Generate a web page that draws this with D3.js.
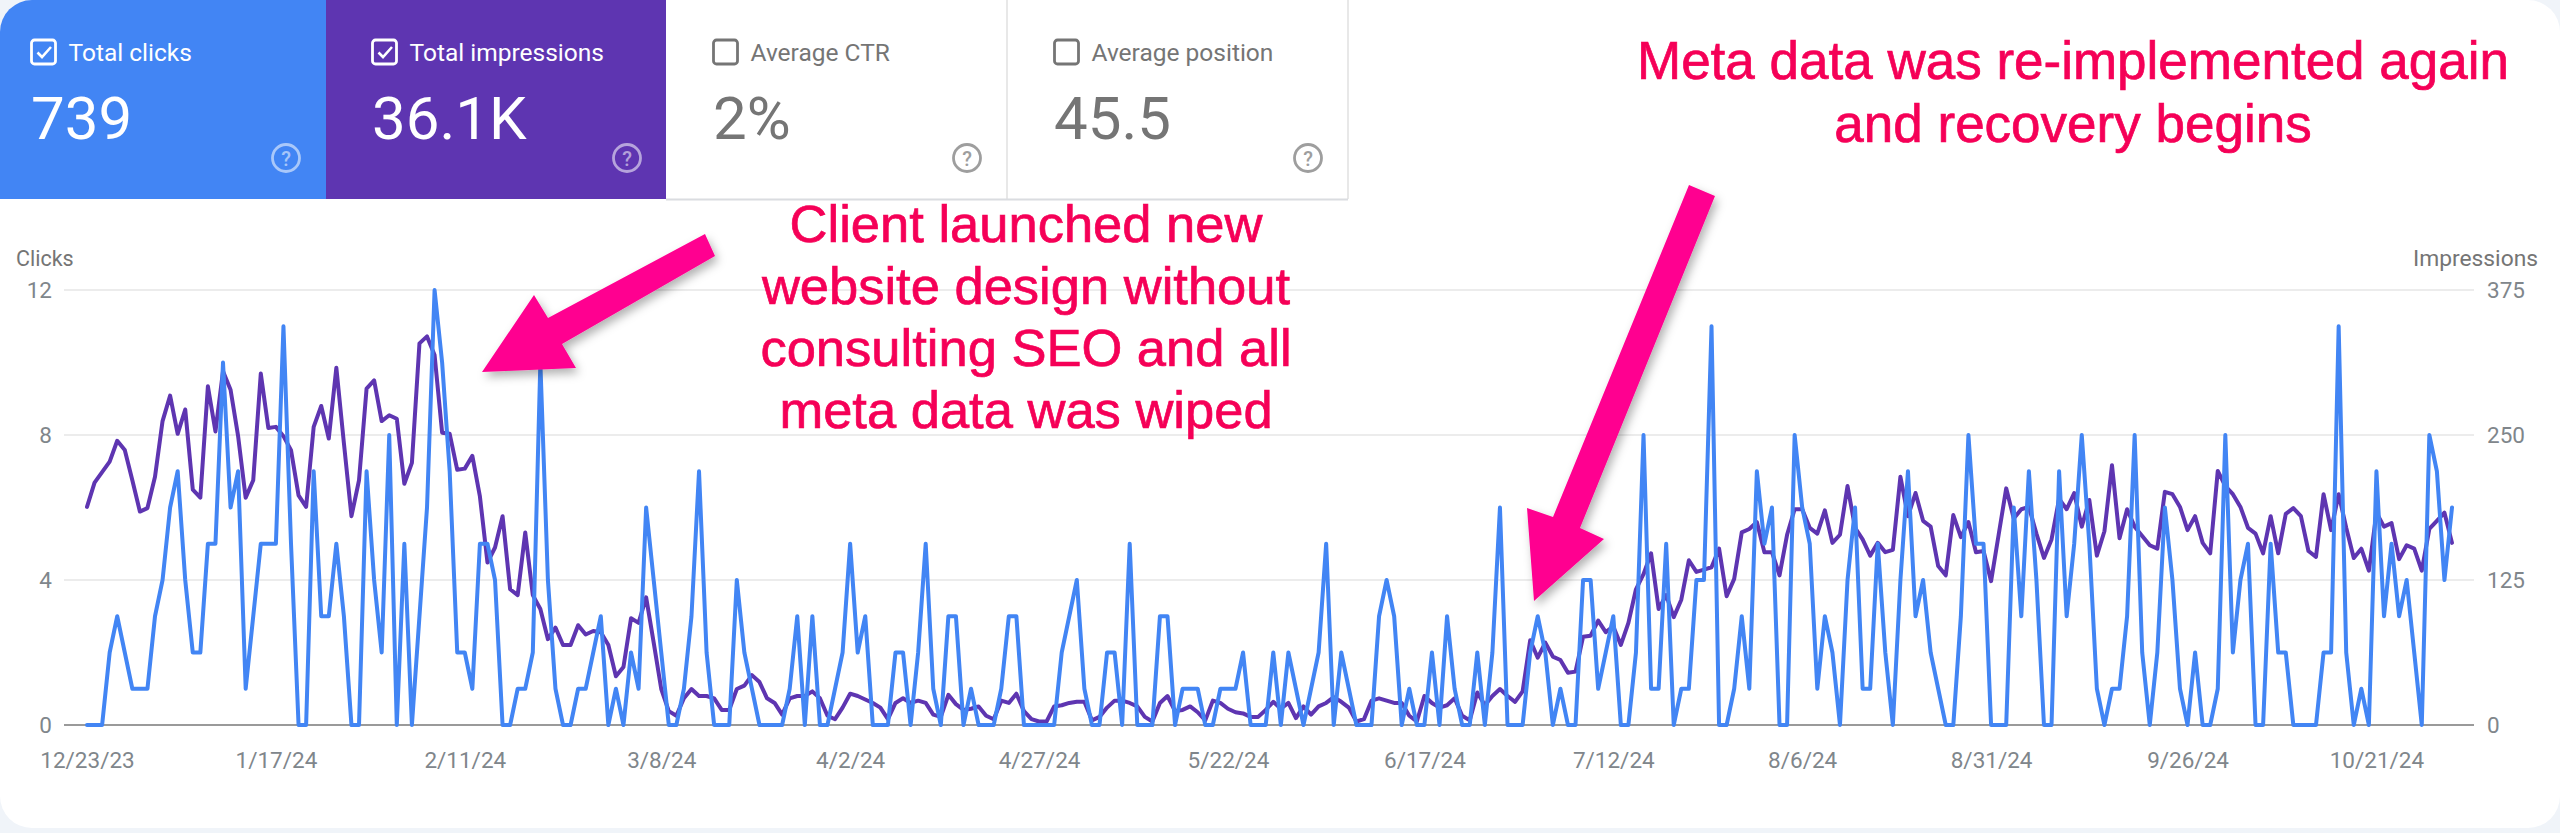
<!DOCTYPE html>
<html>
<head>
<meta charset="utf-8">
<script src="https://cdn.jsdelivr.net/npm/d3@7"></script>
<style>
html,body{margin:0;padding:0;background:#f0f4f9;}
svg{display:block;}
text{font-family:Roboto,sans-serif;}
.domain{display:none;}
</style>
</head>
<body>
<svg id="chart" width="2560" height="833"></svg>
<script>
const startDate = "2023-12-23";
const tickDates = ["2023-12-23","2024-01-17","2024-02-11","2024-03-08","2024-04-02","2024-04-27","2024-05-22","2024-06-17","2024-07-12","2024-08-06","2024-08-31","2024-09-26","2024-10-21"];
const clickTicks = [0,4,8,12];
const impressionTicks = [0,125,250,375];
const clicks = [
0,0,0,2,3,2,1,1,1,3,
4,6,7,4,2,2,5,5,10,6,
7,1,3,5,5,5,11,5,0,0,
7,3,3,5,3,0,0,7,4,2,
8,0,5,0,3,6,12,10,7,2,
2,1,5,5,4,0,0,1,1,2,
10,4,1,0,0,1,1,2,3,0,
1,0,2,1,6,4,2,0,0,1,
3,7,2,0,0,0,4,2,1,0,
0,0,0,1,3,0,3,0,0,1,
2,5,2,3,0,0,0,2,2,0,
2,5,1,0,3,3,0,1,0,0,
0,1,3,3,0,0,0,0,0,2,
3,4,1,0,0,2,2,0,5,0,
0,0,3,3,0,1,1,1,0,0,
1,1,1,2,0,0,0,2,0,2,
1,0,1,2,5,0,2,1,0,0,
0,3,4,3,0,1,0,0,2,0,
3,1,0,0,2,0,2,6,0,0,
0,2,3,2,0,1,0,0,4,4,
1,2,3,0,0,2,8,1,1,5,
0,1,1,4,4,11,0,0,1,3,
1,7,5,6,0,0,8,6,5,1,
3,2,0,4,6,1,1,5,2,0,
4,7,3,4,2,1,0,0,3,8,
5,5,0,0,0,6,3,7,4,0,
0,7,3,5,8,5,1,0,1,1,
3,8,2,0,2,6,4,1,0,2,
0,0,1,8,2,4,5,0,0,5,
2,2,0,0,0,0,2,2,11,2,
0,1,0,7,3,5,3,4,2,0,
8,7,4,6];
const impressions = [
188,209,218,227,245,237,211,184,187,214,
262,284,251,272,203,196,292,253,305,289,
249,196,211,303,256,257,249,237,198,188,
257,275,247,308,243,180,211,290,297,262,
267,264,208,226,329,335,319,252,251,220,
221,232,197,140,153,180,117,112,166,112,
100,74,84,69,69,86,78,81,80,69,
42,50,92,88,110,71,31,12,8,23,
31,25,25,23,13,13,31,34,43,37,
23,19,9,23,25,25,29,23,8,5,
15,27,25,22,19,15,5,19,23,19,
21,19,9,7,26,18,13,14,16,8,
5,21,19,27,12,5,3,3,16,17,
19,20,20,4,7,15,21,21,19,16,
7,3,19,25,12,13,16,11,4,21,
19,14,11,10,7,7,13,20,14,19,
6,16,9,16,19,24,20,15,3,5,
21,23,21,19,19,8,3,25,19,15,
17,23,8,4,28,17,25,31,25,20,
29,73,58,71,59,56,45,46,76,77,
90,80,85,69,88,117,130,148,100,112,
93,108,142,132,134,136,152,111,126,166,
169,175,149,149,129,164,186,186,170,165,
185,157,164,206,170,160,146,157,149,151,
214,180,200,176,171,137,129,181,162,175,
149,150,124,164,204,178,186,188,165,144,
160,195,186,200,171,194,146,167,224,161,
186,171,163,155,152,201,199,188,168,180,
157,148,219,206,199,188,170,165,148,180,
148,182,187,180,150,145,199,168,199,170,
144,152,133,183,171,174,143,155,152,133,
169,176,183,157];
const tileLabels = ["Total clicks","Total impressions","Average CTR","Average position"];
const tileValues = ["739","36.1K","2%","45.5"];
const note1Lines = ["Client launched new","website design without","consulting SEO and all","meta data was wiped"];
const note2Lines = ["Meta data was re-implemented again","and recovery begins"];

const svg = d3.select("#chart");
const defs = svg.append("defs");
const shadow = defs.append("filter").attr("id","shadow").attr("x","-20%").attr("y","-20%").attr("width","140%").attr("height","140%");
shadow.append("feDropShadow").attr("dx",3).attr("dy",5).attr("stdDeviation",5).attr("flood-color","#000").attr("flood-opacity",0.3);
defs.append("clipPath").attr("id","card").append("rect").attr("width",2560).attr("height",828).attr("rx",32);

const root = svg.append("g").attr("clip-path","url(#card)");
root.append("rect").attr("width",2560).attr("height",828).attr("fill","#fff");

// tiles
const tileEdges = [0,326,666,1007,1348];
const tileFill = ["#4285f4","#5e35b1",null,null];
const boxX = [30,371,712,1053];
const helpX = [286,627,967,1308];
tileLabels.forEach((label,i)=>{
  const active = !!tileFill[i];
  const fg = active ? "#fff" : "#757575";
  const g = root.append("g");
  if(active) g.append("rect").attr("x",tileEdges[i]).attr("y",0).attr("width",tileEdges[i+1]-tileEdges[i]).attr("height",199).attr("fill",tileFill[i]);
  else {
    g.append("line").attr("x1",tileEdges[i+1]).attr("x2",tileEdges[i+1]).attr("y1",0).attr("y2",199).attr("stroke","#e0e0e0").attr("stroke-width",1.5);
    g.append("line").attr("x1",tileEdges[i]).attr("x2",tileEdges[i+1]).attr("y1",199.5).attr("y2",199.5).attr("stroke","#dadce0").attr("stroke-width",2);
  }
  g.append("rect").attr("x",boxX[i]+1.5).attr("y",40).attr("width",24).attr("height",24).attr("rx",3).attr("fill","none").attr("stroke",fg).attr("stroke-width",2.8);
  if(active) g.append("path").attr("d",`M${boxX[i]+7.5} 52.5l4.5 4.5l9-10`).attr("fill","none").attr("stroke",fg).attr("stroke-width",2.6);
  g.append("text").attr("x",boxX[i]+38.5).attr("y",61).attr("font-size",24.5).attr("fill",fg).text(label);
  g.append("text").attr("x",boxX[i]+1).attr("y",139).attr("font-size",60).attr("fill",fg).text(tileValues[i]);
  const helpCol = active ? "rgba(255,255,255,0.55)" : "#9e9e9e";
  g.append("circle").attr("cx",helpX[i]).attr("cy",158).attr("r",13.5).attr("fill","none").attr("stroke",helpCol).attr("stroke-width",2.8);
  g.append("text").attr("x",helpX[i]).attr("y",165.5).attr("text-anchor","middle").attr("font-size",20).attr("font-weight",500).attr("fill",helpCol).text("?");
});

// scales
const parse = d3.utcParse("%Y-%m-%d");
const t0 = parse(startDate);
const dates = clicks.map((_,i)=>d3.utcDay.offset(t0,i));
const x = d3.scaleUtc().domain([t0,dates[dates.length-1]]).range([87,2452]);
const yL = d3.scaleLinear().domain([0,12]).range([725,290]);
const yR = d3.scaleLinear().domain([0,375]).range([725,290]);
const gridL = 64, gridR = 2474;

// grid
root.append("g").selectAll("line").data(clickTicks).join("line")
  .attr("x1",gridL).attr("x2",gridR).attr("y1",d=>yL(d)).attr("y2",d=>yL(d))
  .attr("stroke",d=>d===0?"#9a9a9a":"#ececec").attr("stroke-width",2);

// axes
const axisFont = g=>{g.selectAll(".tick line").remove();g.selectAll("text").attr("font-size",22.5).attr("fill","#80868b").attr("font-family","Roboto,sans-serif");};
root.append("g").attr("transform",`translate(${gridL-12},0)`)
  .call(d3.axisLeft(yL).tickValues(clickTicks).tickSize(0).tickPadding(0).tickFormat(d3.format("d"))).call(axisFont);
root.append("g").attr("transform",`translate(${gridR+13},0)`)
  .call(d3.axisRight(yR).tickValues(impressionTicks).tickSize(0).tickPadding(0).tickFormat(d3.format("d"))).call(axisFont);
root.append("g").attr("transform","translate(0,725)")
  .call(d3.axisBottom(x).tickValues(tickDates.map(parse)).tickSize(0).tickPadding(27).tickFormat(d3.utcFormat("%-m/%-d/%y"))).call(axisFont);

root.append("text").attr("x",16).attr("y",266).attr("font-size",21.5).attr("fill","#757575").text("Clicks");
root.append("text").attr("x",2538).attr("y",266).attr("text-anchor","end").attr("font-size",22.8).attr("fill","#757575").text("Impressions");

// lines
const lineOf = (vals,y)=>d3.line().x((d,i)=>x(dates[i])).y(d=>y(d))(vals);
root.append("path").attr("d",lineOf(impressions,yR)).attr("fill","none").attr("stroke","#5e35b1").attr("stroke-width",4).attr("stroke-linejoin","round").attr("stroke-linecap","round");
root.append("path").attr("d",lineOf(clicks,yL)).attr("fill","none").attr("stroke","#4285f4").attr("stroke-width",4).attr("stroke-linejoin","round").attr("stroke-linecap","round");

// annotation arrows
root.append("polygon").attr("points","482,372 534,295 548,318 705,234 715,256 562,344 576,368").attr("fill","#ff0090").attr("filter","url(#shadow)");
root.append("polygon").attr("points","1534,601 1527,508 1553,517 1689,185 1715,196 1580,528 1604,539").attr("fill","#ff0090").attr("filter","url(#shadow)");

// annotation text
const noteStyle = s=>s.attr("text-anchor","middle").attr("fill","#f50057").attr("stroke","#f50057").attr("stroke-width",0.7).style("font-family","'Liberation Sans',sans-serif");
root.append("g").selectAll("text").data(note1Lines).join("text").attr("x",1026).attr("y",(d,i)=>241.5+i*62.3).attr("font-size",52.5).text(d=>d).call(noteStyle);
root.append("g").selectAll("text").data(note2Lines).join("text").attr("x",2073).attr("y",(d,i)=>79+i*63).attr("font-size",53).text(d=>d).call(noteStyle);
</script>
</body>
</html>
